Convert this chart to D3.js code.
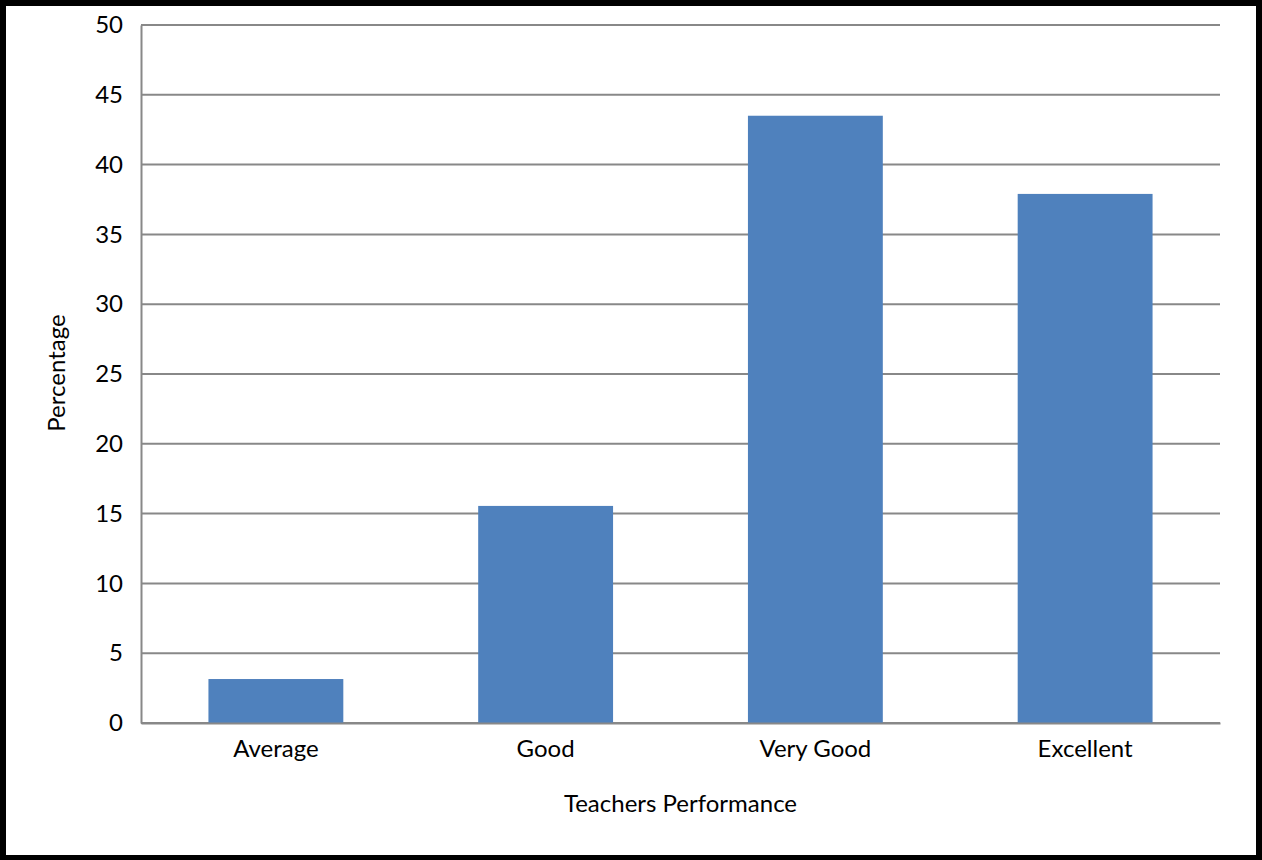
<!DOCTYPE html>
<html><head><meta charset="utf-8">
<script src="https://cdn.jsdelivr.net/npm/d3@7/dist/d3.min.js"></script>
<style>
html,body{margin:0;padding:0;background:#fff;}
svg text{font-family:Lato,"Open Sans",sans-serif;fill:#000;}
</style></head>
<body><svg id="c" width="1262" height="860"></svg>
<script>
const categories = ["Average","Good","Very Good","Excellent"];
const values = [3.15, 15.55, 43.5, 37.9];
const yTicks = [0,5,10,15,20,25,30,35,40,45,50];
const xTitle = "Teachers Performance";
const yTitle = "Percentage";

const svg = d3.select("#c");
const W = 1262, H = 860;
const m = {left:141, right:42, top:25, bottom:137};
const FS = 24;

// frame
svg.append("rect").attr("x",3).attr("y",3).attr("width",W-6).attr("height",H-5)
  .attr("fill","#fff").attr("stroke","#000").attr("stroke-width",6);
svg.append("rect").attr("x",1258.5).attr("y",0).attr("width",3.5).attr("height",H).attr("fill","#000");
svg.append("rect").attr("x",0).attr("y",857).attr("width",W).attr("height",3).attr("fill","#000");

const x = d3.scaleBand().domain(categories).range([m.left, W-m.right]).paddingInner(0.5).paddingOuter(0.25);
const y = d3.scaleLinear().domain([0,50]).range([H-m.bottom, m.top]);

const g = svg.append("g");
g.selectAll("line.grid").data(yTicks).join("line")
  .attr("x1",m.left).attr("x2",W-m.right)
  .attr("y1",d=>y(d)).attr("y2",d=>y(d))
  .attr("stroke","#888").attr("stroke-width",2);

g.selectAll("rect.bar").data(values).join("rect")
  .attr("x",(d,i)=>x(categories[i])).attr("width",x.bandwidth())
  .attr("y",d=>y(d)).attr("height",d=>y(0)-y(d))
  .attr("fill","#4F81BD");

const yAxis = d3.axisLeft(y).tickValues(yTicks).tickSize(0).tickPadding(18);
const ya = svg.append("g").attr("transform",`translate(${m.left},0)`).call(yAxis);
ya.select(".domain").attr("stroke","#888").attr("stroke-width",2);
ya.selectAll("text").attr("font-size",FS).style("font-family","Lato");

const xAxis = d3.axisBottom(x).tickSize(0).tickPadding(17);
const xa = svg.append("g").attr("transform",`translate(0,${y(0)})`).call(xAxis);
xa.select(".domain").attr("stroke","#888").attr("stroke-width",2);
xa.selectAll("text").attr("font-size",FS).style("font-family","Lato");

svg.append("text").attr("x",(m.left+W-m.right)/2).attr("y",812)
  .attr("text-anchor","middle").attr("font-size",FS).text(xTitle);
svg.append("text").attr("transform","translate(65,373) rotate(-90)")
  .attr("text-anchor","middle").attr("font-size",FS).text(yTitle);
</script></body></html>
